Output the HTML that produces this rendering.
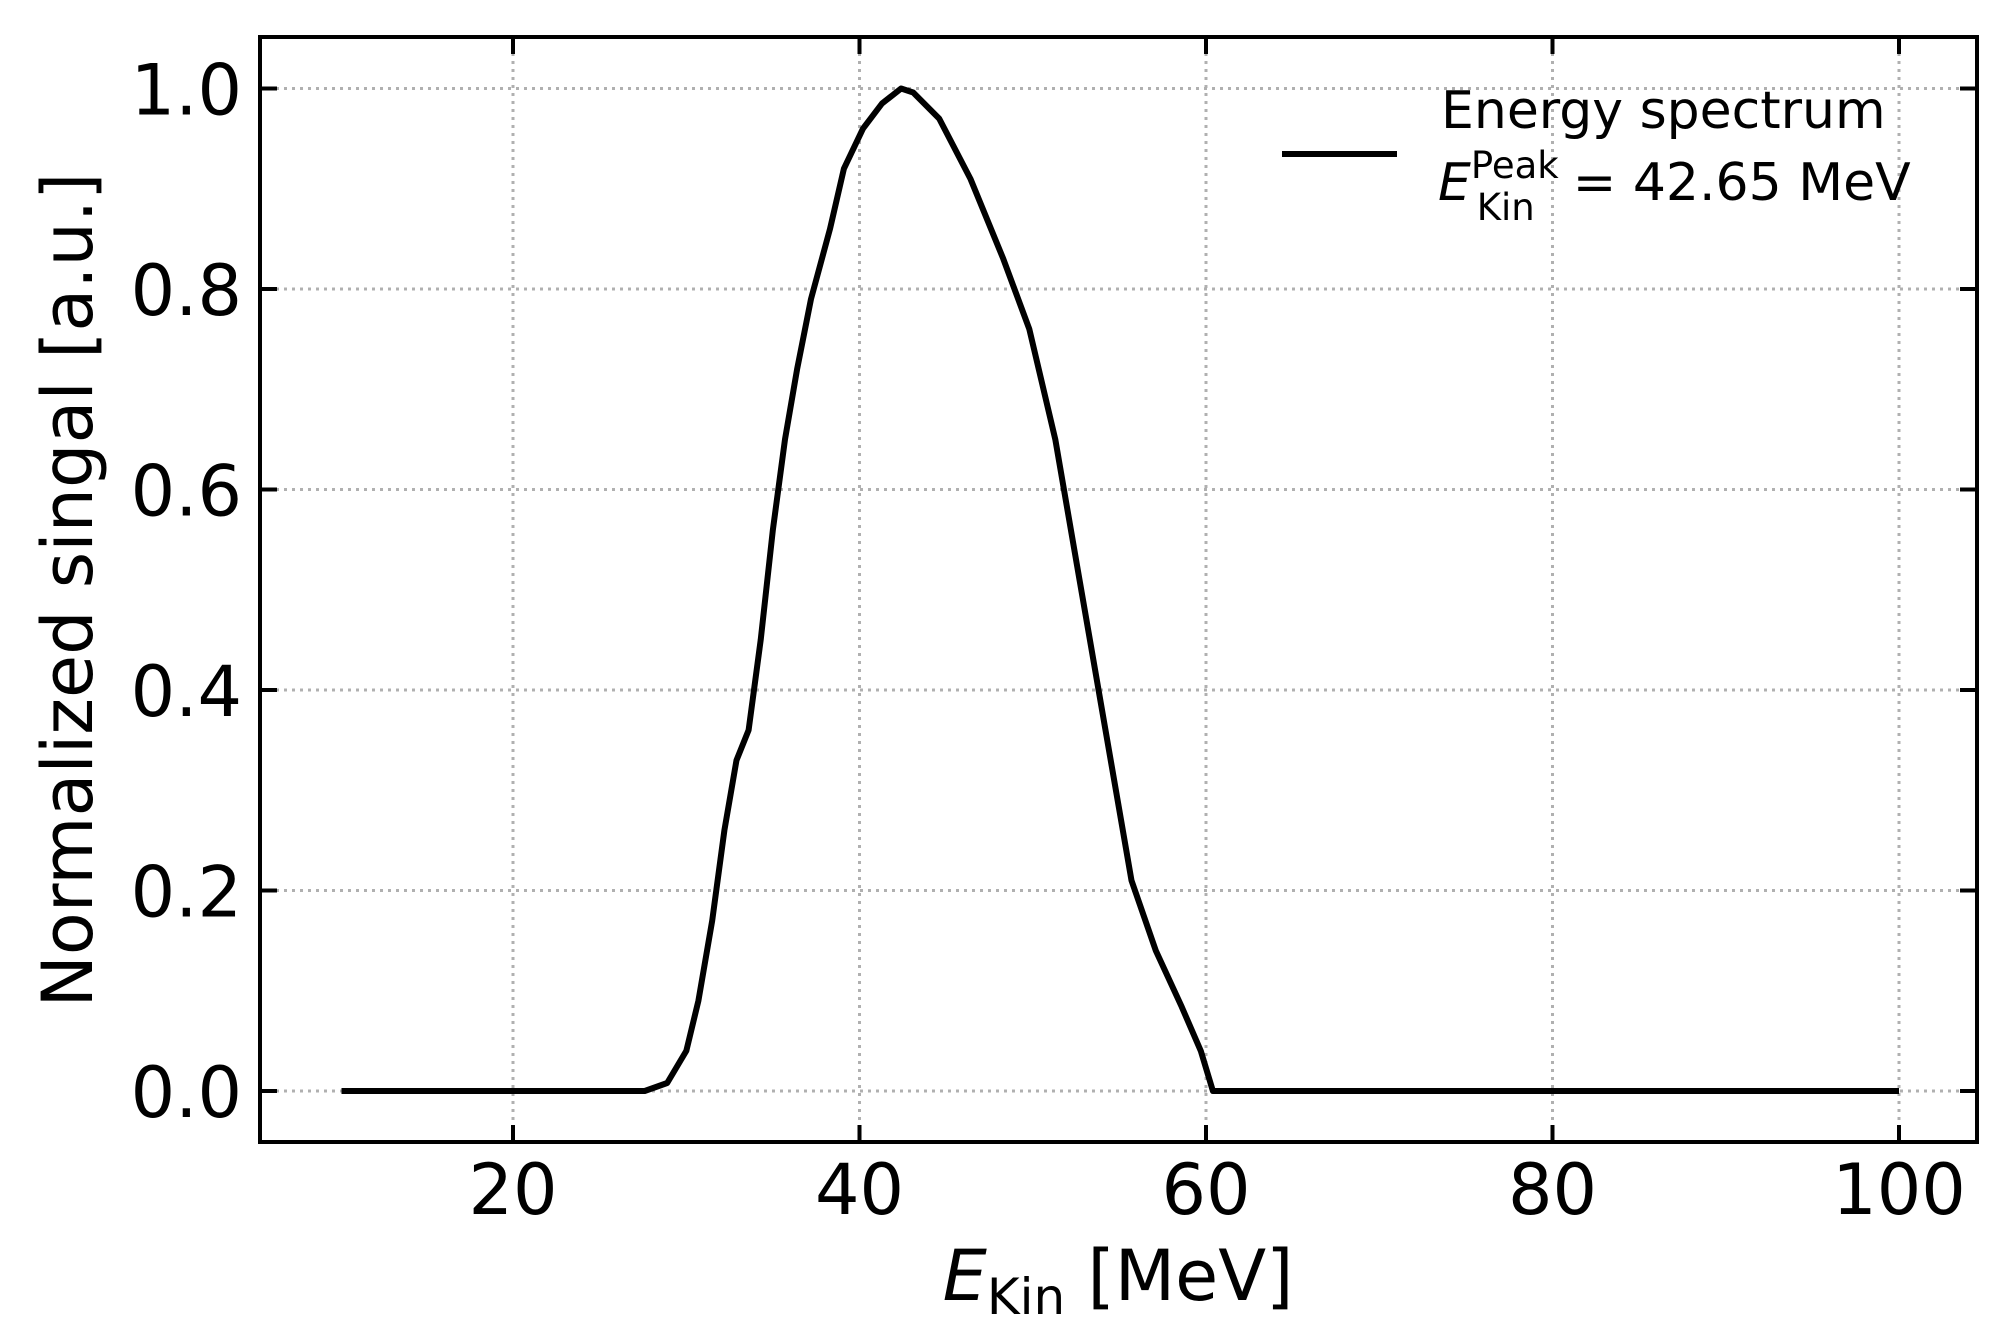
<!DOCTYPE html>
<html><head><meta charset="utf-8"><style>
html,body{margin:0;padding:0;background:#fff;}
svg{display:block;font-family:"DejaVu Sans","Liberation Sans",sans-serif;}
</style></head><body>
<svg id="chart" width="2011" height="1339" viewBox="0 0 2011 1339">
<g id="grid"></g>
<g id="series"></g>
<rect x="260" y="37" width="1717" height="1105" fill="none" stroke="#000" stroke-width="4"/>
<g id="ticks"></g>
<g id="labels" font-size="70"></g>
<text x="1118" y="1300" font-size="70" text-anchor="middle"><tspan font-style="italic">E</tspan><tspan font-size="50" dy="14">Kin</tspan><tspan dy="-14"> [MeV]</tspan></text>
<text transform="translate(92,590) rotate(-90)" font-size="70" text-anchor="middle">Normalized singal [a.u.]</text>
<g>
<line x1="1282" y1="154" x2="1397" y2="154" stroke="#000" stroke-width="6"/>
<text x="1441" y="128" font-size="52">Energy spectrum</text>
<text x="1438" y="200" font-size="52"><tspan font-style="italic">E</tspan><tspan font-size="37" dy="-22">Peak</tspan><tspan font-size="37" dx="-82" dy="42">Kin</tspan><tspan dy="-20" dx="38">= 42.65 MeV</tspan></text>
</g>
</svg>
<script>
const xTicks=[20,40,60,80,100];
const yTicks=[0.0,0.2,0.4,0.6,0.8,1.0];
const xTickLabels=["20","40","60","80","100"];
const yTickLabels=["0.0","0.2","0.4","0.6","0.8","1.0"];
const energy=[10.1,27.6,28.9,30.0,30.7,31.5,32.2,32.9,33.6,34.3,35.0,35.7,36.4,37.2,38.3,39.1,40.2,41.3,42.4,43.1,44.6,46.4,48.3,49.8,51.3,52.7,54.2,55.7,57.1,58.6,59.7,60.4,100];
const signal=[0,0,0.008,0.04,0.09,0.17,0.26,0.33,0.36,0.45,0.56,0.65,0.72,0.79,0.86,0.92,0.96,0.985,1.0,0.996,0.97,0.91,0.83,0.76,0.65,0.51,0.36,0.21,0.14,0.084,0.04,0,0];
const NS='http://www.w3.org/2000/svg';
const X=v=>513+(v-20)*17.325;
const Y=v=>1091-v*1002.5;
const L=260,R=1977,T=37,B=1142;
function mk(tag,attrs,parent){const e=document.createElementNS(NS,tag);for(const k in attrs)e.setAttribute(k,attrs[k]);parent.appendChild(e);return e;}
const grid=document.getElementById('grid'),ticks=document.getElementById('ticks'),labels=document.getElementById('labels'),series=document.getElementById('series');
xTicks.forEach((v,i)=>{
 let g=mk('line',{x1:X(v),x2:X(v),y1:T,y2:B,stroke:'#b0b0b0','stroke-width':3,'stroke-dasharray':'3,5'},grid);
 
 
 let t1=mk('line',{x1:X(v),x2:X(v),y1:B,y2:B-17,stroke:'#000','stroke-width':4},ticks);
 
 
 let t2=mk('line',{x1:X(v),x2:X(v),y1:T,y2:T+17,stroke:'#000','stroke-width':4},ticks);
 
 
 let tx=mk('text',{x:X(v),y:1214,'text-anchor':'middle'},labels);
 tx.textContent=xTickLabels[i];
 
 
});
yTicks.forEach((v,i)=>{
 let g=mk('line',{x1:L,x2:R,y1:Y(v),y2:Y(v),stroke:'#b0b0b0','stroke-width':3,'stroke-dasharray':'3,5'},grid);
 
 
 let t1=mk('line',{x1:L,x2:L+17,y1:Y(v),y2:Y(v),stroke:'#000','stroke-width':4},ticks);
 
 
 let t2=mk('line',{x1:R,x2:R-17,y1:Y(v),y2:Y(v),stroke:'#000','stroke-width':4},ticks);
 
 
 let tx=mk('text',{x:242,y:Y(v)+26,'text-anchor':'end'},labels);
 tx.textContent=yTickLabels[i];
 
 
});
const d=energy.map((e,i)=>(i?'L':'M')+X(e).toFixed(1)+','+Y(signal[i]).toFixed(1)).join(' ');
const p=mk('path',{d:d,fill:'none',stroke:'#000','stroke-width':6,'stroke-linejoin':'round'},series);


</script>
</body></html>
